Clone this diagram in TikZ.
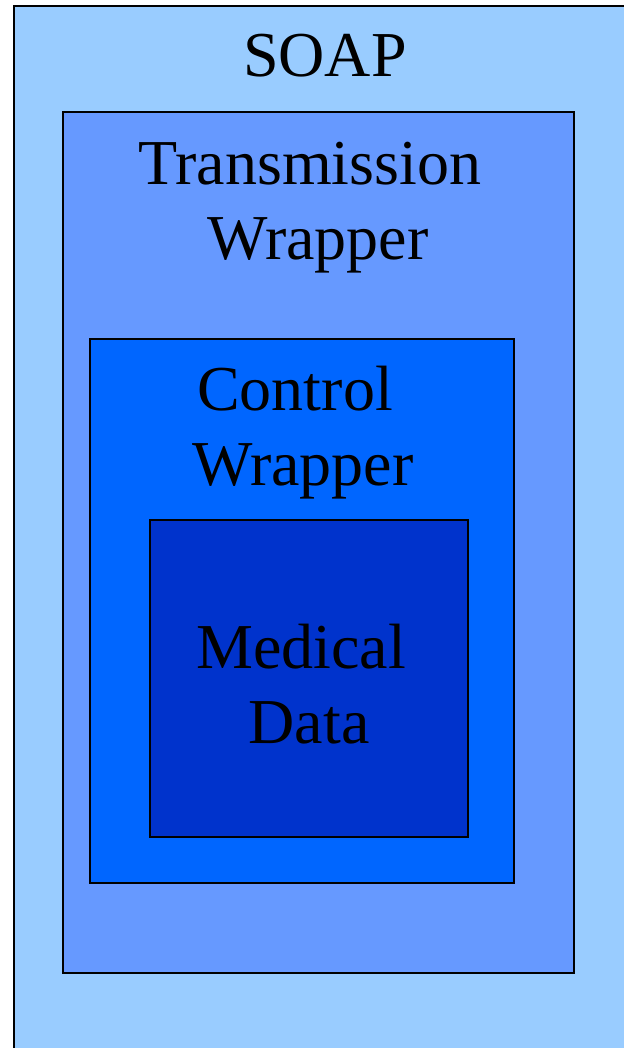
\documentclass[tikz,border=0pt]{standalone}
\usepackage{fontspec}
\setmainfont{Liberation Serif}
\usetikzlibrary{positioning}
\definecolor{soapblue}{HTML}{99CCFF}
\definecolor{transblue}{HTML}{6699FF}
\definecolor{ctrlblue}{HTML}{0066FF}
\definecolor{medblue}{HTML}{0033CC}
\tikzstyle{layer}=[draw=black, line width=1.5pt]
\tikzstyle{layertext}=[font=\fontsize{64}{75}\selectfont, align=center, inner sep=0pt, anchor=base]

\begin{document}
\begin{tikzpicture}[x=1pt, y=-1pt]

  \useasboundingbox (0,0) rectangle (623,1048);

  % nested layers, outermost first
  \foreach \x/\y/\X/\Y/\name/\col in {14/6/660/1080/soap/soapblue, 63/112/574/973/trans/transblue,
        90/339/514/883/ctrl/ctrlblue, 150/520/468/837/med/medblue}
        \path[layer, fill=\col] (\x,\y) rectangle (\X,\Y) coordinate (\name);

  % base anchor sits on the last line
  \foreach \x/\y/\name/\txt in {325/77/soapt/{SOAP}, 318/260/transt/{Transmission\kern0.25em\\Wrapper},
        303/485/ctrlt/{Control\kern0.25em\\Wrapper}, 309/743/medt/{Medical\kern0.25em\\Data}}
        \node[layertext] (\name) at (\x,\y) {\txt};

\end{tikzpicture}
\end{document}
